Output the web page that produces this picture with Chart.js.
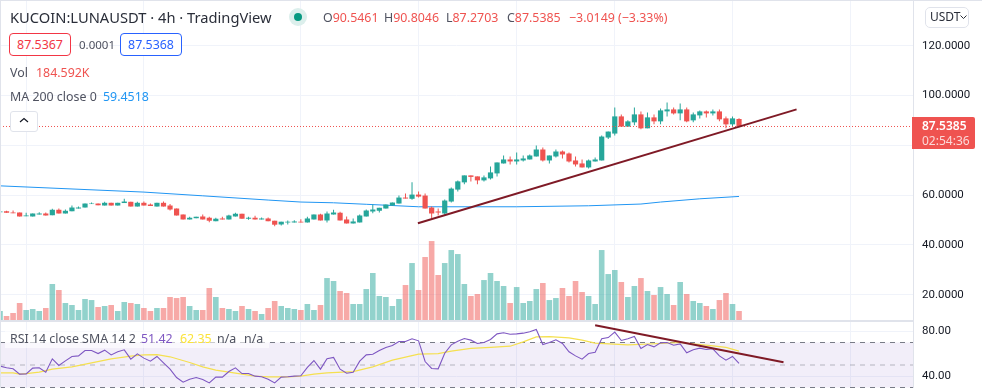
<!DOCTYPE html>
<html>
<head>
<meta charset="utf-8">
<title>KUCOIN:LUNAUSDT</title>
<script src="https://cdn.jsdelivr.net/npm/chart.js@4"></script>
<style>
  html, body { margin: 0; padding: 0; background: #fff; }
  #wrap { position: relative; width: 982px; height: 388px; overflow: hidden; font-family: "Noto Sans", sans-serif; font-size: 12.4px; color: #131722; }
  #wrap canvas { position: absolute; left: 0; top: 0; }
  .t { position: absolute; white-space: nowrap; line-height: 16px; }
  .gray { color: #4f5260; }
  .red { color: #ef5350; }
  .blue { color: #2196f3; }
  .box { position: absolute; box-sizing: border-box; height: 23px; width: 62px; border-radius: 4px; background: #fff; text-align: center; line-height: 21px; font-size: 12.4px; }
  .edge { position: absolute; background: #e0e3eb; }
</style>
</head>
<body>
<div id="wrap">
  <canvas id="chart" width="982" height="388"></canvas>
  <div class="edge" style="left:0;top:0;width:982px;height:1px"></div>
  <div class="edge" style="left:0;top:0;width:1px;height:388px"></div>

  <div class="t" style="left:10px;top:8px;font-size:14.7px;line-height:19px;color:#2a2e39">KUCOIN:LUNAUSDT · 4h · TradingView</div>
  <div style="position:absolute;left:289px;top:8px;width:18px;height:18px;border-radius:9px;background:#dcefec"></div>
  <div style="position:absolute;left:294px;top:13px;width:8px;height:8px;border-radius:4px;background:#089981"></div>
  <div class="t" style="left:323px;top:10px"><span class="gray">O</span><span class="red">90.5461</span></div>
  <div class="t" style="left:384px;top:10px"><span class="gray">H</span><span class="red">90.8046</span></div>
  <div class="t" style="left:446px;top:10px"><span class="gray">L</span><span class="red">87.2703</span></div>
  <div class="t" style="left:507px;top:10px"><span class="gray">C</span><span class="red">87.5385</span></div>
  <div class="t red" style="left:569px;top:10px">−3.0149 (−3.33%)</div>

  <div class="box" style="left:9px;top:33px;border:1px solid #f23645;color:#f23645">87.5367</div>
  <div class="t gray" style="left:79px;top:37px;font-size:11.5px">0.0001</div>
  <div class="box" style="left:120px;top:33px;border:1px solid #2962ff;color:#2962ff">87.5368</div>

  <div class="t gray" style="left:10px;top:65px">Vol</div>
  <div class="t red" style="left:36px;top:65px">184.592K</div>
  <div class="t gray" style="left:10px;top:89px">MA 200 close 0</div>
  <div class="t blue" style="left:103px;top:89px">59.4518</div>

  <div style="position:absolute;left:10px;top:111px;width:28px;height:21px;box-sizing:border-box;border:1px solid #e0e3eb;border-radius:3px;background:#fff"></div>
  <svg style="position:absolute;left:19px;top:117px" width="10" height="7"><path d="M1 5 L5 1.5 L9 5" fill="none" stroke="#131722" stroke-width="1.2"/></svg>

  <div style="position:absolute;left:5px;top:330px;width:264px;height:18px;background:rgba(255,255,255,.6)"></div>
  <div class="t gray" style="left:10px;top:331px">RSI 14 close SMA 14 2</div>
  <div class="t" style="left:141px;top:331px;color:#7e57c2">51.42</div>
  <div class="t" style="left:180px;top:331px;color:#fbe33b">62.35</div>
  <div class="t gray" style="left:217px;top:331px">n/a</div>
  <div class="t gray" style="left:244px;top:331px">n/a</div>

  <div style="position:absolute;left:925px;top:7px;width:44px;height:21px;box-sizing:border-box;border:1px solid #e0e3eb;border-radius:5px"></div>
  <div class="t" style="left:930px;top:9px;font-size:12px;color:#2a2e39">USDT</div>
  <svg style="position:absolute;left:960px;top:15px" width="7" height="5"><path d="M0.5 0.5 L3.5 3.5 L6.5 0.5" fill="none" stroke="#2a2e39" stroke-width="1"/></svg>

  <div style="position:absolute;left:912px;top:117px;width:63px;height:32px;background:#ef5350;border-radius:0 2px 2px 0"></div>
  <div class="t" style="left:922px;top:118px;font-size:12px;font-weight:600;color:#fff">87.5385</div>
  <div class="t" style="left:922px;top:133px;font-size:12px;color:#fbd9d8">02:54:36</div>
</div>

<script>
const opens = [
  53.1,53.5,53.0,53.0,51.5,51.4,52.2,52.6,51.9,54.1,
  52.6,53.5,54.6,55.0,56.4,56.6,55.8,56.9,55.8,56.8,
  57.3,55.4,56.9,56.2,55.4,56.9,55.8,54.6,52.2,50.2,
  50.7,51.4,50.9,49.5,50.6,50.2,51.4,52.5,50.5,50.9,
  50.2,50.6,49.7,48.2,49.0,49.0,49.3,49.0,50.2,52.2,
  49.8,52.2,52.9,50.2,48.6,49.0,51.4,53.4,53.7,54.6,
  55.8,56.6,59.0,58.5,60.2,59.8,55.0,53.4,52.6,57.4,
  62.2,65.1,67.9,67.5,65.9,66.7,68.7,72.7,74.3,73.5,
  73.9,74.3,75.5,78.3,73.9,75.5,77.5,76.7,73.9,72.7,
  71.1,73.5,73.9,83.1,84.7,91.6,87.5,89.2,92.4,86.8,
  91.2,89.6,93.6,94.4,92.8,94.4,90.0,92.0,93.6,92.8,93.6,90.8,88.4,90.5461
];
const highs = [
  53.4,53.7,53.8,53.0,52.9,52.6,53.1,53.0,54.5,54.6,
  54.2,55.8,55.4,56.6,57.0,56.6,57.3,56.9,56.9,58.5,
  57.3,57.3,57.4,56.6,56.9,57.4,56.4,54.6,52.2,51.3,
  51.3,52.2,51.3,50.9,51.3,52.1,52.9,52.5,51.3,51.7,
  51.0,51.0,49.7,49.3,49.8,49.9,50.3,51.3,52.2,52.5,
  53.4,54.1,53.3,51.4,50.6,52.2,54.2,56.2,54.9,56.2,
  57.0,59.8,60.6,65.1,61.4,60.6,55.4,54.6,58.2,63.0,
  65.9,67.9,67.9,67.5,67.9,71.5,73.1,75.9,75.5,77.1,
  75.9,76.3,79.9,79.1,75.9,78.3,77.9,77.1,75.5,74.3,
  74.3,75.1,83.9,85.5,95.2,92.4,90.0,95.2,93.6,93.2,
  92.4,94.8,97.2,95.2,96.8,95.2,93.2,94.0,94.0,94.4,94.4,91.6,91.6,90.8046
];
const lows = [
  53.1,52.9,52.7,51.4,51.5,51.4,52.2,51.8,51.9,52.6,
  52.6,53.5,54.6,55.0,56.4,55.9,55.8,55.8,55.8,56.8,
  55.4,55.4,55.8,55.6,55.4,55.4,53.8,51.8,50.2,50.2,
  50.7,50.2,49.1,49.5,50.2,50.2,51.4,50.5,50.1,50.2,
  50.2,49.5,47.5,47.8,48.2,49.0,49.0,49.0,50.2,49.8,
  49.0,52.2,49.8,48.6,48.6,49.0,51.4,52.7,53.0,54.6,
  55.8,56.6,58.6,58.1,59.0,54.6,50.6,51.8,52.2,57.0,
  61.4,64.3,65.5,64.3,65.5,66.3,67.5,72.7,72.3,72.3,
  73.5,74.3,75.5,73.5,72.7,75.1,74.7,73.1,71.5,71.1,
  70.7,73.5,73.9,82.5,83.9,87.5,87.5,88.0,86.4,86.8,
  88.4,88.4,91.6,92.4,90.0,89.2,89.2,90.8,91.2,92.0,89.6,86.8,87.5,87.2703
];
const closes = [
  53.4,52.9,52.7,51.4,51.8,52.6,52.6,51.8,54.1,52.6,
  53.7,55.0,55.0,56.6,56.6,55.9,56.9,55.8,56.9,57.4,
  55.4,56.9,55.8,55.6,56.9,55.4,54.2,51.8,50.2,50.9,
  51.3,50.2,49.7,50.5,50.2,51.8,52.5,50.5,50.9,50.2,
  50.6,49.5,48.1,49.3,49.3,49.4,49.0,50.6,52.2,49.8,
  52.6,53.0,49.8,48.6,49.4,51.8,53.8,54.2,54.9,56.2,
  57.0,59.0,58.6,60.2,59.4,54.6,52.6,53.0,57.8,62.6,
  65.5,67.9,67.3,65.9,67.1,69.1,73.1,74.3,73.5,74.3,
  74.7,75.9,78.3,73.9,75.9,77.5,76.3,73.5,72.3,71.1,
  73.9,74.3,83.5,85.5,91.6,87.5,89.6,92.4,86.8,91.2,
  89.6,94.0,94.4,92.8,94.4,89.6,92.4,93.6,92.8,93.6,90.4,88.4,90.8,87.5385
];
// volume in thousands
const volumes = [
  185,92,148,332,203,221,185,240,683,572,
  332,295,203,406,387,258,277,295,185,351,
  332,314,240,185,240,240,443,424,443,277,
  203,203,609,443,240,221,185,277,221,185,
  129,240,369,277,240,221,203,314,203,295,
  793,738,554,517,314,314,590,886,461,443,
  277,406,664,1070,572,1181,1476,849,1070,1310,
  1236,683,461,498,756,886,738,646,332,627,
  332,369,590,701,387,424,609,461,738,535,
  461,314,1310,867,941,720,443,646,793,554,
  480,627,498,295,720,498,369,332,277,221,387,517,314,184.592
];
const rsiValues = [
  49.0,47.5,46.6,41.9,42.1,47.2,47.5,43.6,55.5,49.6,
  53.7,57.6,58.1,62.9,62.9,60.2,63.2,59.0,61.7,63.5,
  55.2,59.9,56.1,53.4,57.6,51.9,46.3,38.9,34.7,37.4,
  38.9,37.1,34.1,39.2,39.2,44.2,47.5,42.4,42.4,40.1,
  39.5,37.4,34.1,39.2,39.5,40.1,40.4,47.8,54.0,46.3,
  55.5,56.7,46.3,42.7,43.6,53.4,59.0,59.6,62.9,65.6,
  67.3,70.9,70.9,73.3,71.5,53.1,46.9,46.6,60.5,67.9,
  71.2,73.6,72.1,69.1,70.0,72.7,77.7,78.6,77.4,77.7,
  78.3,79.5,81.6,68.2,70.0,72.4,69.1,61.7,58.1,55.2,
  60.2,61.4,73.3,74.4,79.2,71.8,73.3,75.3,64.7,68.2,
  66.1,69.7,70.0,67.6,68.8,60.8,63.5,65.0,63.8,64.4,58.1,54.3,57.6,51.42
];
const smaIndex = [0,2,3,4,6,8,11,14,17,20,22,24,26,29,31,33,35,37,39,41,44,46,48,50,54,57,60,63,64,67,69,72,75,78,80,82,84,87,89,91,96,101,104,109,111,113];
const smaValues = [43.0,43.0,41.9,42.4,43.6,46.3,48.4,51.9,55.5,57.9,59.0,59.3,57.3,52.2,48.4,45.4,43.6,41.9,40.1,39.5,39.5,40.1,41.9,43.0,44.2,48.4,54.3,58.4,59.6,60.2,62.3,64.7,65.6,66.7,70.6,75.0,75.3,74.1,72.1,69.4,67.9,69.1,70.0,67.0,65.6,62.35];
const maIndex = [0,22,31,41,46,51,56,64,79,90,98,101,107,113];
const maValues = [63.7,61.2,59.7,58.0,57.2,56.9,56.3,55.3,55.3,55.7,56.4,57.2,58.5,59.45];
const lastPrice = 87.5385;

const priceTicks = [120, 100, 80, 60, 40, 20];
const rsiTicks = [80, 40];
const timeGrid = [4, 22, 46, 64, 79, 94, 112, 130];
const upTrendX = [63.9, 121.8];
const upTrendY = [48.7, 94.4];
const rsiTrendX = [91, 119.8];
const rsiTrendY = [85.4, 52.5];

const GREEN = "#26a69a";
const RED = "#ef5350";
const GRID = "#f0f3fa";
const LINE_END = 140;

const toPoints = (xs, ys) => xs.map((x, i) => ({ x: x, y: ys[i] }));
const isUp = opens.map((o, i) => closes[i] >= o);
const candleColors = isUp.map((u) => (u ? GREEN : RED));
const volumeColors = isUp.map((u) => (u ? "rgba(38,166,154,0.5)" : "rgba(239,83,80,0.5)"));

const flatLine = (y, axis, color, width, dash, order, extra) =>
  Object.assign({
    type: "line",
    yAxisID: axis,
    data: [{ x: 0, y: y }, { x: LINE_END, y: y }],
    borderColor: color,
    borderWidth: width,
    borderDash: dash,
    pointRadius: 0,
    order: order,
  }, extra || {});

const plainLine = (points, axis, color, width, order) => ({
  type: "line",
  yAxisID: axis,
  data: points,
  borderColor: color,
  borderWidth: width,
  pointRadius: 0,
  tension: 0,
  order: order,
});

const barSet = (points, axis, colors, thickness, order) => ({
  type: "bar",
  yAxisID: axis,
  data: points,
  backgroundColor: colors,
  borderWidth: 0,
  borderSkipped: false,
  inflateAmount: 0,
  barThickness: thickness,
  grouped: false,
  order: order,
});

// the rsi axis has no width of its own, its labels sit in the price axis column
const rsiLabelColumn = {
  id: "rsiLabelColumn",
  afterLayout(chart) {
    const s = chart.scales.yRsi;
    s.left = chart.chartArea.right;
    s.right = s.left + 69;
  },
};

new Chart(document.getElementById("chart"), {
  plugins: [rsiLabelColumn],
  data: {
    datasets: [
      // volume pane
      barSet(volumes.map((v, i) => ({ x: i, y: v })), "yVol", volumeColors, 5.6, 20),
      flatLine(0, "yVol", "#e0e3eb", 2, [], 19),
      // rsi band and levels
      flatLine(70, "yRsi", "#787b86", 1, [5, 5], 18, { fill: { target: 4, above: "rgba(126,87,194,0.1)", below: "rgba(126,87,194,0.1)" } }),
      flatLine(50, "yRsi", "rgba(120,123,134,0.5)", 1, [5, 5], 17),
      flatLine(30, "yRsi", "#787b86", 1, [5, 5], 16),
      plainLine(toPoints(smaIndex, smaValues), "yRsi", "#f5e050", 1.2, 15),
      plainLine(rsiValues.map((v, i) => ({ x: i, y: v })), "yRsi", "#7e57c2", 1.1, 14),
      // price pane
      plainLine(toPoints(maIndex, maValues), "y", "#2196f3", 1, 13),
      barSet(highs.map((h, i) => ({ x: i, y: [lows[i], h] })), "y", candleColors, 1, 12),
      barSet(opens.map((o, i) => ({ x: i, y: [Math.min(o, closes[i]), Math.max(o, closes[i])] })), "y", candleColors, 5.2, 11),
      flatLine(lastPrice, "y", RED, 1, [1, 2], 10),
      // hand drawn trend lines
      plainLine(toPoints(upTrendX, upTrendY), "y", "#7f1a26", 2, 2),
      plainLine(toPoints(rsiTrendX, rsiTrendY), "yRsi", "#7f1a26", 2, 1),
    ],
  },
  options: {
    responsive: false,
    animation: false,
    layout: { padding: 0 },
    plugins: { legend: { display: false }, tooltip: { enabled: false } },
    scales: {
      x: {
        type: "linear",
        offset: false,
        min: 0,
        max: 139.6,
        afterBuildTicks: (s) => { s.ticks = timeGrid.map((v) => ({ value: v })); },
        afterFit: (s) => { s.height = 0; },
        ticks: { display: false },
        grid: { color: GRID, drawTicks: false, offset: false },
        border: { display: false },
      },
      y: {
        position: "right",
        weight: 1,
        offset: false,
        min: -17.48,
        max: 138.34,
        afterBuildTicks: (s) => { s.ticks = priceTicks.map((v) => ({ value: v })); },
        afterFit: (s) => { s.width = 69; s.paddingTop = 0; s.paddingBottom = 0; },
        ticks: {
          padding: 9,
          color: "#131722",
          font: { family: "Roboto", size: 11.5 },
          callback: (v) => v.toFixed(4),
        },
        grid: { color: GRID, drawTicks: false, offset: false },
        border: { color: "#e0e3eb" },
      },
      yRsi: {
        position: "right",
        weight: 0,
        offset: false,
        min: 29.56,
        max: 374.44,
        afterBuildTicks: (s) => { s.ticks = rsiTicks.map((v) => ({ value: v })); },
        afterFit: (s) => { s.width = 0; s.paddingTop = 0; s.paddingBottom = 0; },
        ticks: {
          padding: 9,
          color: "#131722",
          font: { family: "Roboto", size: 11.5 },
          callback: (v) => v.toFixed(2),
        },
        grid: { color: GRID, drawTicks: false, offset: false },
        border: { display: false },
      },
      yVol: {
        display: false,
        offset: false,
        min: -1237,
        max: 5926,
      },
    },
  },
});
</script>
</body>
</html>
